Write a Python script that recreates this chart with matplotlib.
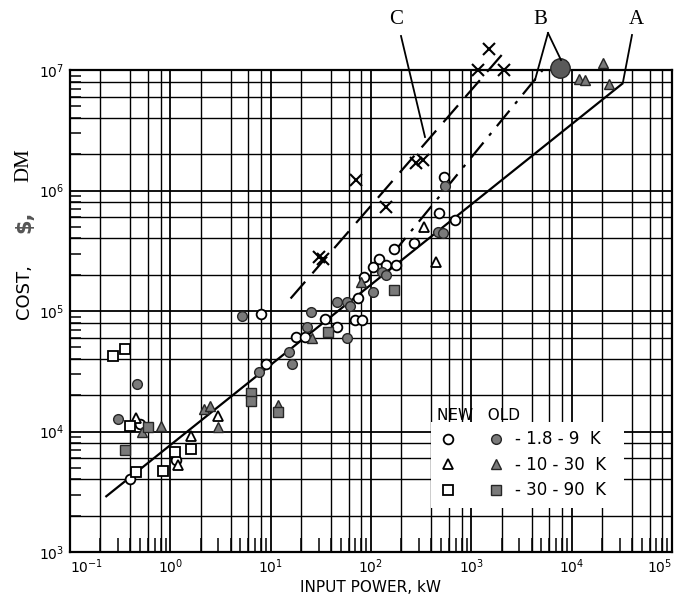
import numpy as np
import matplotlib.pyplot as plt
from matplotlib.legend_handler import HandlerTuple

# values (input power kW, cost)
new_circle_x = [0.40, 0.50, 1.15, 8.1, 8.9, 18, 22, 35, 46, 69, 74, 82, 86, 104, 121, 141, 169, 178, 271, 471, 533, 681]
new_circle_y = [4.0e3, 1.15e4, 5.8e3, 9.4e4, 3.6e4, 6.1e4, 6.1e4, 8.6e4, 7.4e4, 8.4e4, 1.27e5, 8.5e4, 1.9e5,
                2.33e5, 2.69e5, 2.4e5, 3.3e5, 2.4e5, 3.65e5, 6.5e5, 1.29e6, 5.7e5]

new_tri_x = [0.45, 1.2, 1.6, 3.0, 341, 447]
new_tri_y = [1.3e4, 5.3e3, 9.2e3, 1.35e4, 5.0e5, 2.57e5]

new_sq_x = [0.27, 0.35, 0.40, 0.46, 0.85, 1.12, 1.6]
new_sq_y = [4.2e4, 4.8e4, 1.12e4, 4.6e3, 4.7e3, 6.8e3, 7.1e3]

old_circle_x = [0.30, 0.47, 5.2, 7.6, 15.2, 16.5, 23, 25, 46, 58, 58, 62, 104, 130, 141, 464, 521, 541]
old_circle_y = [1.27e4, 2.5e4, 9.1e4, 3.1e4, 4.6e4, 3.6e4, 7.4e4, 9.9e4, 1.19e5, 1.19e5, 6.0e4, 1.1e5,
                1.44e5, 2.1e5, 2.0e5, 4.55e5, 4.4e5, 1.09e6]
big_circle_x = [7700]
big_circle_y = [1.03e7]

old_tri_x = [0.52, 0.81, 2.15, 2.47, 3.0, 11.7, 25.7, 79, 11700, 13600, 20700, 23300]
old_tri_y = [1.0e4, 1.11e4, 1.55e4, 1.64e4, 1.1e4, 1.66e4, 6.0e4, 1.75e5, 8.5e6, 8.3e6, 1.15e7, 7.7e6]

old_sq_x = [0.35, 0.60, 6.3, 6.3, 11.7, 37, 169]
old_sq_y = [7.0e3, 1.1e4, 2.07e4, 1.8e4, 1.45e4, 6.7e4, 1.48e5]

cross_x = [30, 33, 71, 141, 278, 329, 1175, 1514, 2140]
cross_y = [2.8e5, 2.7e5, 1.22e6, 7.3e5, 1.7e6, 1.78e6, 1.0e7, 1.5e7, 1.0e7]

# trend lines (end points)
line_a_x = [0.23, 3.2e4]
line_a_y = [2.9e3, 7.7e6]
line_b_x = [165, 5850]
line_b_y = [3.0e5, 1.14e7]
line_c_x = [15.8, 2240]
line_c_y = [1.27e5, 1.48e7]

x_ticks = [1e-1, 1e0, 1e1, 1e2, 1e3, 1e4, 1e5]
x_tick_labels = ["$10^{-1}$", "$10^{0}$", "$10^{1}$", "$10^{2}$", "$10^{3}$", "$10^{4}$", "$10^{5}$"]
legend_labels = ["- 1.8 - 9  K", "- 10 - 30  K", "- 30 - 90  K"]

gray = "#7a7a7a"
edge = "#262626"

fig = plt.figure(figsize=(6.83, 5.97), dpi=100)
ax = fig.add_axes([70 / 683, 45 / 597, 602 / 683, 482 / 597])
ax.set_xscale("log")
ax.set_yscale("log")
ax.set_xlim(1e-1, 1e5)
ax.set_ylim(1e3, 1e7)

# hand-drawn style grid: lines at 1, 2, 4, 6, 8 of every decade
for d in range(-1, 5):
    for s in [1, 2, 4, 6, 8]:
        ax.axvline(s * 10.0 ** d, color="black", lw=1.3 if s == 1 else 1.0, zorder=1)
for d in range(3, 7):
    for s in [1, 2, 4, 6, 8]:
        ax.axhline(s * 10.0 ** d, color="black", lw=1.3 if s == 1 else 1.0, zorder=1)

# white legend area covering the grid
ax.fill_between([400, 3.3e4], 2.3e3, 1.2e4, color="white", zorder=2, lw=0)

for sp in ax.spines.values():
    sp.set_linewidth(1.6)

ax.xaxis.set_minor_locator(plt.matplotlib.ticker.LogLocator(base=10, subs=np.arange(2, 10)))
ax.yaxis.set_minor_locator(plt.matplotlib.ticker.LogLocator(base=10, subs=np.arange(2, 10)))
ax.xaxis.set_minor_formatter(plt.NullFormatter())
ax.yaxis.set_minor_formatter(plt.NullFormatter())
# end labels of the x axis are drawn separately so they stay inside the figure
ax.set_xticks(x_ticks, labels=[""] + x_tick_labels[1:-1] + [""])
ax.tick_params(which="major", direction="in", length=0, labelsize=10, pad=4)
ax.tick_params(which="minor", direction="in", length=10, width=1.1)
ax.tick_params(axis="y", which="minor", length=8)
ax.text(0.0, -0.012, x_tick_labels[0], transform=ax.transAxes, ha="left", va="top", fontsize=10)
ax.text(1.0, -0.012, x_tick_labels[-1], transform=ax.transAxes, ha="right", va="top", fontsize=10)

# trend lines
ax.plot(line_a_x, line_a_y, color="black", lw=1.6, zorder=3, clip_on=False)
ax.plot(line_b_x, line_b_y, color="black", lw=1.6, zorder=3, clip_on=False,
        dashes=(9, 4, 1.5, 4))
ax.plot(line_c_x, line_c_y, color="black", lw=1.6, zorder=3, clip_on=False,
        dashes=(10, 5))

ms = 7
kw_open = dict(ls="none", mfc="white", mec="black", mew=1.3, ms=ms, zorder=4, clip_on=False)
kw_old = dict(ls="none", mfc=gray, mec=edge, mew=1.0, ms=ms, zorder=4, clip_on=False)

o1, = ax.plot(new_circle_x, new_circle_y, marker="o", **kw_open)
o2, = ax.plot(new_tri_x, new_tri_y, marker="^", **kw_open)
o3, = ax.plot(new_sq_x, new_sq_y, marker="s", **kw_open)
g1, = ax.plot(old_circle_x, old_circle_y, marker="o", **kw_old)
g2, = ax.plot(old_tri_x, old_tri_y, marker="^", **kw_old)
g3, = ax.plot(old_sq_x, old_sq_y, marker="s", **kw_old)
ax.plot(big_circle_x, big_circle_y, ls="none", marker="o", mfc="#5a5a5a", mec=edge, ms=14,
        zorder=4, clip_on=False)
ax.plot(cross_x, cross_y, ls="none", marker="x", color="black", mew=1.5, ms=9, zorder=4, clip_on=False)

leg = ax.legend([(o1, g1), (o2, g2), (o3, g3)], legend_labels,
                handler_map={tuple: HandlerTuple(ndivide=None, pad=1.5)},
                title="NEW   OLD", loc="lower left", bbox_to_anchor=(0.59, 0.085),
                frameon=False, fontsize=12, title_fontsize=11, handlelength=4.2,
                handletextpad=0.5, labelspacing=0.45, borderpad=0.2)
leg._legend_box.align = "left"
leg.set_zorder(5)

ax.set_xlabel("INPUT POWER, kW", fontsize=11, labelpad=3)

# y label pieces
fig.text(24 / 683, 1 - 292 / 597, "COST,", rotation=90, ha="center", va="center", fontsize=13)
fig.text(24 / 683, 1 - 222 / 597, "$,", rotation=90, ha="center", va="center", fontsize=15,
         fontweight="bold", color="#555555")
fig.text(24 / 683, 1 - 165 / 597, "DM", rotation=90, ha="center", va="center", fontsize=15,
         family="Liberation Serif")

# curve labels with leaders
for lab, lx, ly in [("C", 396, 20), ("B", 540, 20), ("A", 636, 20)]:
    fig.text(lx / 683, 1 - ly / 597, lab, ha="center", va="center", fontsize=15,
             family="Liberation Serif")

for (x0, y0), (x1, y1) in [((401, 36), (425, 137)), ((548, 33), (535, 80)),
                           ((548, 33), (561, 60)), ((632, 35), (623, 82))]:
    fig.add_artist(plt.Line2D([x0 / 683, x1 / 683], [1 - y0 / 597, 1 - y1 / 597],
                              color="black", lw=1.3))

fig.savefig("out.png", dpi=100)
